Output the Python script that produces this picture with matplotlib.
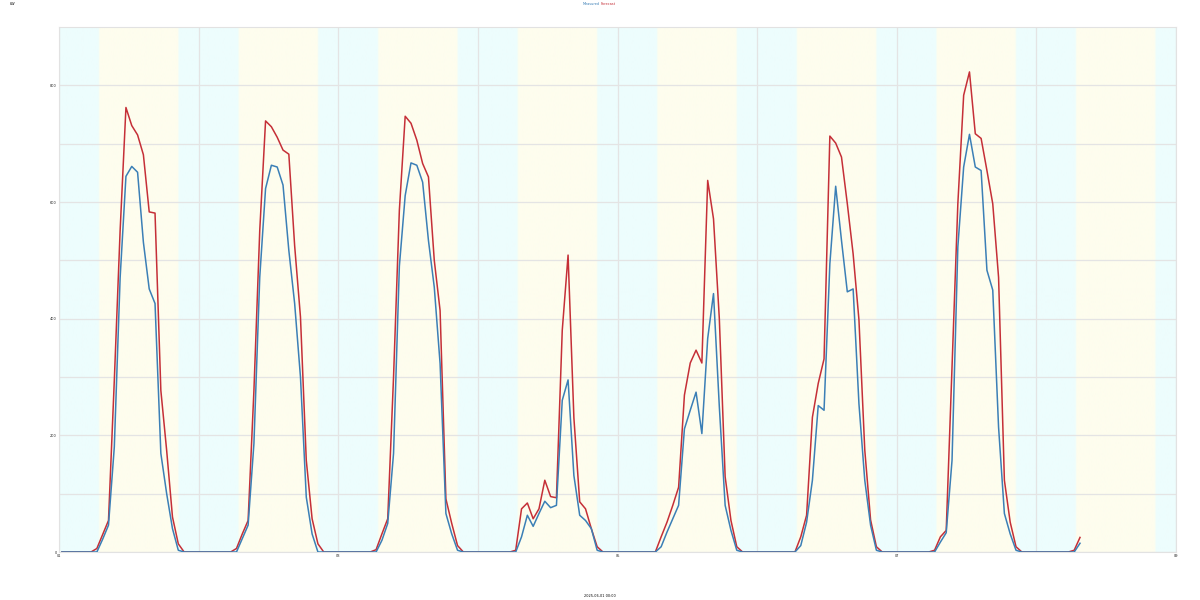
import numpy as np
import pandas as pd
import matplotlib
matplotlib.use("Agg")
import matplotlib.pyplot as plt
import matplotlib.dates as mdates
from matplotlib.colors import LinearSegmentedColormap

# hourly values (hh:30), one row per day
measured = [
    [0, 0, 0, 0, 0, 0, 0, 22, 46, 180, 470, 644, 661, 651, 531, 451, 426, 169, 100, 40, 3, 0, 0, 0],
    [0, 0, 0, 0, 0, 0, 0, 23, 46, 186, 471, 623, 663, 660, 629, 517, 426, 300, 94, 31, 0, 0, 0, 0],
    [0, 0, 0, 0, 0, 0, 0, 20, 49, 169, 490, 611, 667, 663, 634, 534, 454, 323, 66, 31, 3, 0, 0, 0],
    [0, 0, 0, 0, 0, 0, 0, 26, 63, 44, 66, 87, 76, 80, 260, 295, 131, 63, 54, 40, 3, 0, 0, 0],
    [0, 0, 0, 0, 0, 0, 0, 9, 34, 57, 80, 211, 243, 274, 203, 366, 443, 249, 80, 37, 3, 0, 0, 0],
    [0, 0, 0, 0, 0, 0, 0, 11, 51, 123, 251, 243, 494, 627, 534, 446, 451, 254, 123, 46, 3, 0, 0, 0],
    [0, 0, 0, 0, 0, 0, 0, 17, 33, 157, 523, 660, 716, 660, 654, 483, 449, 214, 66, 31, 3, 0, 0, 0],
    [0, 0, 0, 0, 0, 0, 0, 15],
]
forecast = [
    [0, 0, 0, 0, 0, 0, 6, 30, 54, 294, 551, 762, 731, 715, 681, 583, 581, 277, 174, 60, 14, 0, 0, 0],
    [0, 0, 0, 0, 0, 0, 6, 31, 54, 277, 551, 739, 729, 711, 689, 682, 525, 403, 157, 57, 14, 0, 0, 0],
    [0, 0, 0, 0, 0, 0, 4, 31, 57, 300, 586, 747, 735, 706, 666, 643, 500, 414, 91, 49, 11, 0, 0, 0],
    [0, 0, 0, 0, 0, 0, 3, 74, 84, 57, 74, 123, 95, 93, 380, 509, 230, 86, 74, 40, 9, 0, 0, 0],
    [0, 0, 0, 0, 0, 0, 0, 26, 51, 80, 111, 269, 324, 346, 324, 637, 571, 400, 129, 54, 9, 0, 0, 0],
    [0, 0, 0, 0, 0, 0, 0, 26, 63, 231, 289, 331, 713, 701, 677, 597, 511, 398, 175, 55, 9, 0, 0, 0],
    [0, 0, 0, 0, 0, 0, 3, 26, 37, 317, 597, 783, 823, 717, 709, 654, 597, 471, 123, 51, 9, 0, 0, 0],
    [0, 0, 0, 0, 0, 0, 3, 25],
]
start = "2025-06-01"
n_days = 8
sunrise, sunset = 6.85, 20.5   # hours, day shading
series_names = ["Measured", "Forecast"]
blue, red = "#3b7fb6", "#c52f37"
night_col, day_col = "#edfdfd", "#fefdee"

y_meas = [v for day in measured for v in day]
y_fc = [v for day in forecast for v in day]
t = pd.date_range(start + " 00:30", periods=len(y_meas), freq="h")
t0 = pd.Timestamp(start)
t1 = t0 + pd.Timedelta(days=n_days)

fig = plt.figure(figsize=(12, 6), dpi=100)
ax = fig.add_axes([0.0492, 0.08, 0.9308, 0.875])

# background: night / day shading with soft edges
hgrid = np.linspace(0, n_days * 24, n_days * 24 * 12 + 1)
hod = hgrid % 24
w = 0.25
mix = np.clip((hod - sunrise) / w + 0.5, 0, 1) * np.clip((sunset - hod) / w + 0.5, 0, 1)
cmap = LinearSegmentedColormap.from_list("daynight", [night_col, day_col])
x0, x1 = mdates.date2num(t0), mdates.date2num(t1)
ax.imshow(mix[np.newaxis, :], aspect="auto", cmap=cmap, vmin=0, vmax=1,
          extent=[x0, x1, 0, 900], interpolation="bilinear", zorder=0)

ax.plot(t, y_fc, color=red, lw=1.1, zorder=3)
ax.plot(t, y_meas, color=blue, lw=1.1, zorder=3)

ax.set_xlim(t0, t1)
ax.set_ylim(0, 900)
ax.xaxis.set_major_locator(mdates.DayLocator(interval=2))
ax.xaxis.set_minor_locator(mdates.DayLocator())
ax.xaxis.set_major_formatter(mdates.DateFormatter("%d"))
ax.set_yticks(range(0, 900, 200))
ax.set_yticks(range(100, 900, 200), minor=True)
ax.grid(True, which="both", color="#e4e4e4", lw=0.9, zorder=1)
ax.set_axisbelow(True)
for s in ax.spines.values():
    s.set_color("#e2e2e2")
ax.tick_params(which="both", length=0, labelsize=2.5, pad=1.5, colors="#222222")

fig.text(0.5, 0.004, start + " 00:00", fontsize=2.5, ha="center", va="bottom")
fig.text(0.4995, 0.997, series_names[0], color=blue, fontsize=2.5, ha="right", va="top")
fig.text(0.5005, 0.997, series_names[1], color=red, fontsize=2.5, ha="left", va="top")
fig.text(0.008, 0.997, "kW", fontsize=2.5, ha="left", va="top")

fig.savefig("out.png", dpi=100)
